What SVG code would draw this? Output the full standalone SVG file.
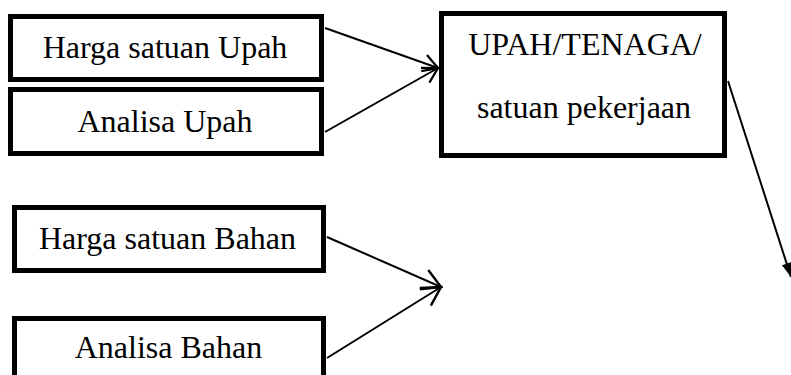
<svg xmlns="http://www.w3.org/2000/svg" width="791" height="375" viewBox="0 0 791 375">
<style>
.box{fill:#fff;stroke:#000;stroke-width:5}
.lbl{font-family:"Liberation Serif","Times New Roman",serif;font-size:32px;fill:#000;text-anchor:middle}
.con{stroke:#000;stroke-width:2;fill:none}
</style>
<defs>
<marker id="openS" markerUnits="userSpaceOnUse" markerWidth="40" markerHeight="40" viewBox="-20 -20 40 40" refX="0" refY="0" orient="auto">
<path d="M-14.7,-8.5 L0,0 L-14.7,8.5" fill="none" stroke="#000" stroke-width="2.2"/>
</marker>
<marker id="openL" markerUnits="userSpaceOnUse" markerWidth="50" markerHeight="50" viewBox="-25 -25 50 50" refX="0" refY="0" orient="auto">
<path d="M-18.5,-10.5 L0,0 L-18.5,10.5" fill="none" stroke="#000" stroke-width="2.4"/>
</marker>
<marker id="filled" markerUnits="userSpaceOnUse" markerWidth="30" markerHeight="30" viewBox="-20 -15 30 30" refX="0" refY="0" orient="auto">
<path d="M-14,-5 L0,0 L-14,5 Z" fill="#000"/>
</marker>
</defs>
<rect width="791" height="375" fill="#fff"/>
<g id="connectors">
<line class="con" x1="325" y1="28" x2="438" y2="68" marker-end="url(#openS)"/>
<line class="con" x1="325" y1="132" x2="438" y2="68" marker-end="url(#openS)"/>
<line class="con" x1="327" y1="237" x2="441" y2="287" marker-end="url(#openL)"/>
<line class="con" x1="327" y1="358" x2="441" y2="287" marker-end="url(#openL)"/>
<line class="con" x1="728" y1="81" x2="791" y2="277" marker-end="url(#filled)"/>
</g>
<g id="node-harga-upah">
<rect class="box" x="10.5" y="16.5" width="311" height="63"/>
<text class="lbl" x="165" y="58">Harga satuan Upah</text>
</g>
<g id="node-analisa-upah">
<rect class="box" x="10.5" y="89.5" width="311" height="64"/>
<text class="lbl" x="165" y="132">Analisa Upah</text>
</g>
<g id="node-upah-tenaga">
<rect class="box" x="441.5" y="13.5" width="283" height="142"/>
<text class="lbl" x="585" y="55">UPAH/TENAGA/</text>
<text class="lbl" x="584" y="118">satuan pekerjaan</text>
</g>
<g id="node-harga-bahan">
<rect class="box" x="14.5" y="207.5" width="309" height="63"/>
<text class="lbl" x="167.5" y="249">Harga satuan Bahan</text>
</g>
<g id="node-analisa-bahan">
<rect class="box" x="14.5" y="318.5" width="309" height="70"/>
<text class="lbl" x="168.5" y="358">Analisa Bahan</text>
</g>
</svg>
